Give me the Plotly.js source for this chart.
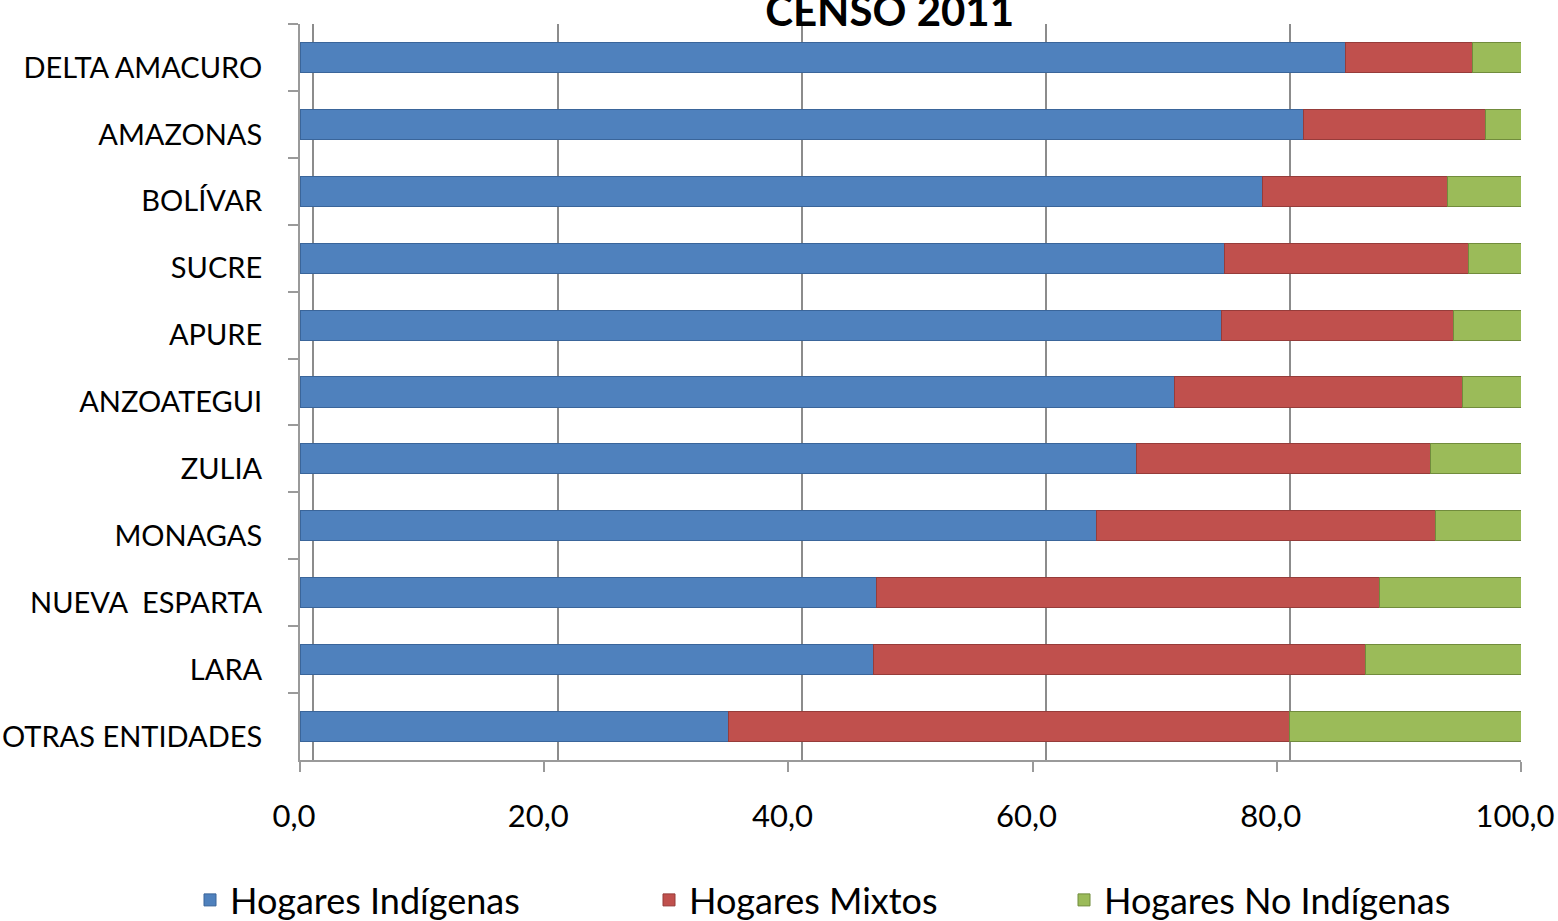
<!DOCTYPE html>
<html>
<head>
<meta charset="utf-8">
<script src="https://cdn.plot.ly/plotly-3.0.1.min.js"></script>
<style>html,body{margin:0;padding:0;background:#fff;}#chart{width:1558px;height:921px;}</style>
</head>
<body>
<div id="chart"></div>
<script>
const categories = ["DELTA AMACURO","AMAZONAS","BOLÍVAR","SUCRE","APURE","ANZOATEGUI","ZULIA","MONAGAS","NUEVA  ESPARTA","LARA","OTRAS ENTIDADES"];
const hogaresIndigenas = [85.6,82.2,78.8,75.7,75.5,71.6,68.5,65.2,47.2,47.0,35.1];
const hogaresMixtos = [10.4,14.9,15.2,20.0,19.0,23.6,24.1,27.8,41.2,40.3,45.9];
const hogaresNoIndigenas = [4.0,2.9,6.0,4.3,5.5,4.8,7.4,7.0,11.6,12.7,19.0];
const tickVals = [0,20,40,60,80,100];
const tickText = ["0,0","20,0","40,0","60,0","80,0","100,0"];

const FONT = "Lato, 'Open Sans', sans-serif";

function series(name, vals, color, line, legendId) {
  return {
    type: 'bar', orientation: 'h', name: name,
    x: vals, y: categories, legend: legendId,
    marker: {color: color, line: {color: line, width: 1}},
    hoverinfo: 'x+y+name'
  };
}

const data = [
  series('Hogares Indígenas', hogaresIndigenas, '#4F81BD', '#3A659A', 'legend'),
  series('Hogares Mixtos', hogaresMixtos, '#C0504D', '#963C3A', 'legend2'),
  series('Hogares No Indígenas', hogaresNoIndigenas, '#9BBB59', '#718C3C', 'legend3'),
  // empty helper trace so the back-wall grid axis is drawn
  {type: 'scatter', mode: 'none', x: [null], y: [null], xaxis: 'x2', showlegend: false, hoverinfo: 'skip'}
];

function legendAt(xFrac) {
  return {
    orientation: 'h', x: xFrac, xanchor: 'left', xref: 'container',
    y: 0.0228, yanchor: 'middle', yref: 'container',
    bgcolor: 'rgba(0,0,0,0)',
    font: {family: FONT, size: 36, color: '#000'},
    itemwidth: 30
  };
}

const layout = {
  width: 1558, height: 921,
  paper_bgcolor: '#fff', plot_bgcolor: '#fff',
  margin: {l: 300, r: 37, t: 24, b: 161},
  barmode: 'stack',
  bargap: 0.55,
  title: {text: '<b>CENSO 2011</b>', x: 0.571, xanchor: 'center', y: 0.988, yanchor: 'middle', yref: 'container',
          font: {family: FONT, size: 42, color: '#000'}},
  xaxis: {
    range: [0, 100], tickvals: tickVals, ticktext: tickText,
    showgrid: false, zeroline: false,
    showline: true, linecolor: '#9a9a9a', linewidth: 2,
    ticks: 'outside', ticklen: 10, tickcolor: '#9a9a9a', tickwidth: 2,
    ticklabelstandoff: 18, ticklabelshift: -6, ticklabeloverflow: 'allow',
    tickfont: {family: FONT, size: 31, color: '#000'}
  },
  xaxis2: {
    overlaying: 'x', anchor: 'y', side: 'top', range: [-1.1, 98.9], tickvals: tickVals,
    showgrid: true, gridcolor: '#8c8c8c', gridwidth: 2,
    showticklabels: false, zeroline: false, showline: false, ticks: ''
  },
  yaxis: {
    type: 'category', autorange: 'reversed',
    showgrid: false, zeroline: false,
    showline: true, linecolor: '#9a9a9a', linewidth: 2,
    ticks: 'outside', tickson: 'boundaries', ticklen: 10, tickcolor: '#9a9a9a', tickwidth: 2,
    ticklabelstandoff: 30, ticklabelshift: -10,
    tickfont: {family: FONT, size: 29, color: '#000'}
  },
  legend: legendAt(190 / 1558),
  legend2: legendAt(649 / 1558),
  legend3: legendAt(1064 / 1558),
  showlegend: true
};

Plotly.newPlot('chart', data, layout, {displayModeBar: false, staticPlot: true});
</script>
</body>
</html>
